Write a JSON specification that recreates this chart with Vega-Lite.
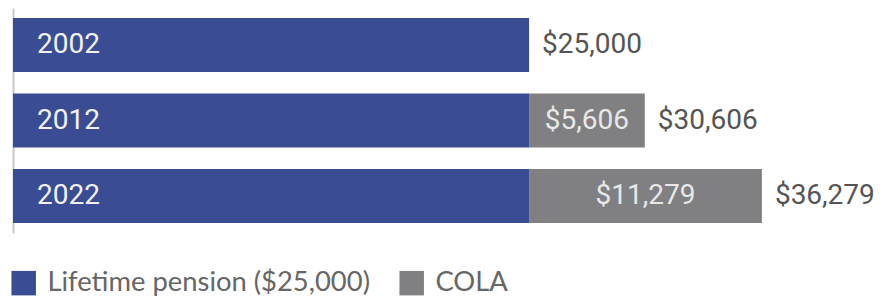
{
  "$schema": "https://vega.github.io/schema/vega-lite/v6.json",
  "width": 867,
  "height": 225,
  "autosize": {"type": "none"},
  "padding": {"left": 13, "top": 8, "right": 1, "bottom": 69},
  "background": "white",
  "config": {"view": {"stroke": null}},
  "data": {
    "values": [
      {"year": "2002", "component": "Lifetime pension ($25,000)", "value": 25000},
      {"year": "2012", "component": "Lifetime pension ($25,000)", "value": 25000},
      {"year": "2012", "component": "COLA", "value": 5606},
      {"year": "2022", "component": "Lifetime pension ($25,000)", "value": 25000},
      {"year": "2022", "component": "COLA", "value": 11279}
    ]
  },
  "encoding": {
    "y": {
      "field": "year",
      "type": "nominal",
      "scale": {"paddingInner": 0.285, "paddingOuter": 0.133},
      "axis": {"title": null, "labels": false, "ticks": false, "domainColor": "#c8c8c8", "domainWidth": 2}
    }
  },
  "layer": [
    {
      "mark": {"type": "bar"},
      "encoding": {
        "x": {"field": "value", "type": "quantitative", "stack": "zero", "scale": {"domain": [0, 42000], "nice": false}, "axis": null},
        "color": {
          "field": "component",
          "type": "nominal",
          "scale": {"domain": ["Lifetime pension ($25,000)", "COLA"], "range": ["#3a4d94", "#808082"]},
          "legend": {
            "title": null,
            "orient": "none",
            "legendX": -3,
            "legendY": 261,
            "direction": "horizontal",
            "columns": 2,
            "symbolType": "square",
            "symbolSize": 600,
            "symbolStrokeWidth": 0,
            "labelFont": "Lato",
            "labelFontSize": 27.4,
            "labelColor": "#666666",
            "labelOffset": 10,
            "columnPadding": 28,
            "labelLimit": 500
          }
        },
        "order": {"field": "component", "sort": "descending"}
      }
    },
    {
      "transform": [{"filter": "datum.component !== 'COLA'"}],
      "mark": {"type": "text", "align": "left", "baseline": "middle", "dx": 24, "font": "Roboto", "fontSize": 28, "color": "#f2f2f2"},
      "encoding": {
        "x": {"datum": 0, "type": "quantitative"},
        "text": {"field": "year"}
      }
    },
    {
      "mark": {"type": "text", "align": "center", "baseline": "middle", "font": "Roboto", "fontSize": 28, "color": "#e8e8e8"},
      "encoding": {
        "x": {"field": "value", "type": "quantitative", "stack": "zero", "bandPosition": 0.5},
        "detail": {"field": "component"},
        "order": {"field": "component", "sort": "descending"},
        "text": {"field": "value", "type": "quantitative", "format": "$,.0f"},
        "opacity": {"condition": {"test": "datum.component === 'COLA'", "value": 1}, "value": 0}
      }
    },
    {
      "mark": {"type": "text", "align": "left", "baseline": "middle", "dx": 13, "font": "Roboto", "fontSize": 28, "color": "#555555"},
      "encoding": {
        "x": {"aggregate": "sum", "field": "value", "type": "quantitative"},
        "text": {"aggregate": "sum", "field": "value", "type": "quantitative", "format": "$,.0f"}
      }
    }
  ]
}
